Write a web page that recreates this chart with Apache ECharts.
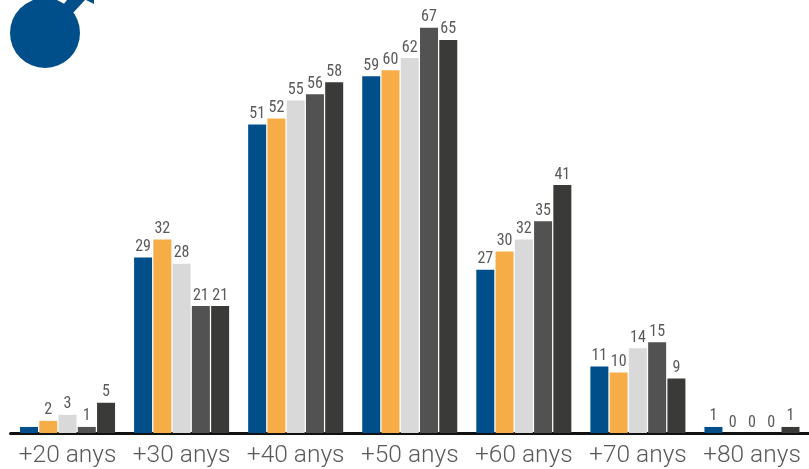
<!DOCTYPE html>
<html><head><meta charset="utf-8">
<style>html,body{margin:0;padding:0;background:#fff}#c{width:809px;height:469px}</style>
<script src="https://cdn.jsdelivr.net/npm/echarts@6/dist/echarts.min.js"></script></head>
<body><div id="c"></div>
<script>
const categories = ['+20 anys','+30 anys','+40 anys','+50 anys','+60 anys','+70 anys','+80 anys'];
const s1 = [1,29,51,59,27,11,1];
const s2 = [2,32,52,60,30,10,0];
const s3 = [3,28,55,62,32,14,0];
const s4 = [1,21,56,67,35,15,0];
const s5 = [5,21,58,65,41,9,1];
const colors = ['#004f8b','#f7ad47','#d9d9d9','#525252','#3a3a38'];
const all = [s1,s2,s3,s4,s5];
const chart = echarts.init(document.getElementById('c'),null,{renderer:'canvas'});
chart.setOption({
  animation:false,
  grid:{left:10.5,right:-1.5,top:0,bottom:36,containLabel:false},
  xAxis:{type:'category',data:categories,
    axisLine:{show:true,lineStyle:{color:'#111',width:3}},axisTick:{show:false},
    axisLabel:{color:'#595959',fontSize:24.5,fontFamily:'Roboto',fontWeight:300,margin:10.5,interval:0}},
  yAxis:{type:'value',min:0,max:71.6,show:false,splitLine:{show:false}},
  series:all.map((d,i)=>({type:'bar',
    data:d.map((v,j)=>(i===0&&j===0)?{value:v,label:{show:false}}:v),
    barWidth:18,barGap:'7%',barCategoryGap:'17%',
    itemStyle:{color:colors[i]},
    label:{show:true,position:'top',distance:2.5,color:'#595959',fontSize:16,fontFamily:'Roboto',fontWeight:'400 condensed'}})),
  graphic:[
    {type:'polygon',shape:{points:[[56,14],[67,0],[85,0],[72,14]]},style:{fill:'#004f8b'},silent:true},
    {type:'polygon',shape:{points:[[86,0],[94,4],[94,0]]},style:{fill:'#004f8b'},silent:true},
    {type:'circle',shape:{cx:45,cy:33,r:35},style:{fill:'#004f8b'},silent:true}
  ]
});
</script></body></html>
